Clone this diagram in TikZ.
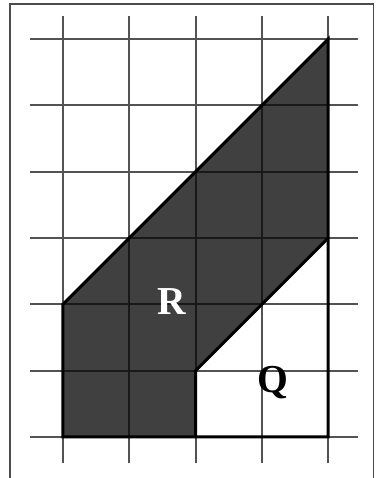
\documentclass[tikz,border=0pt]{standalone}
\usepackage{fontspec}
\setmainfont{Liberation Serif}
\tikzset{
    gridline/.style={gray!65!black, line width=0.9pt},
    outline/.style={black, line width=1.3pt, line join=miter},
    letter/.style={font=\fontsize{17}{17}\selectfont\bfseries}
}
\begin{document}
\begin{tikzpicture}
    \useasboundingbox (-0.95,-0.62) rectangle (4.75,6.59);
    % 外框
    \draw[gray!60!black, line width=0.5pt] (-0.80,-0.62) -- (-0.80,6.53) -- (4.68,6.53) -- (4.68,-0.62);

    % 方格
    \foreach \x in {0,...,4} {
        \draw[gridline] (\x,-0.4) -- (\x,6.35);
    }
    \foreach \y in {0,...,6} {
        \draw[gridline] (-0.5,\y) -- (4.45,\y);
    }

    % 图形顶点
    \coordinate (a) at (0,0);
    \coordinate (b) at (0,2);
    \coordinate (c) at (4,6);
    \coordinate (d) at (4,3);
    \coordinate (e) at (2,1);
    \coordinate (f) at (2,0);
    \coordinate (g) at (4,0);

    % 区域 R
    \fill[black!75] (a) -- (b) -- (c) -- (d) -- (e) -- (f) -- cycle;
    \begin{scope}
        \clip (a) -- (b) -- (c) -- (d) -- (e) -- (f) -- cycle;
        \foreach \x in {1,2,3} {
            \draw[black!90, line width=0.8pt] (\x,0) -- (\x,6);
        }
        \foreach \y in {1,...,5} {
            \draw[black!90, line width=0.8pt] (0,\y) -- (4,\y);
        }
    \end{scope}

    % 边框
    \draw[outline] (a) -- (b) -- (c) -- (g) -- cycle;
    \draw[outline] (d) -- (e) -- (f);

    % 标注
    \node[letter, text=white] (R) at (1.64,2.04) {R};
    \node[letter] (Q) at (3.17,0.82) {Q};
\end{tikzpicture}
\end{document}
